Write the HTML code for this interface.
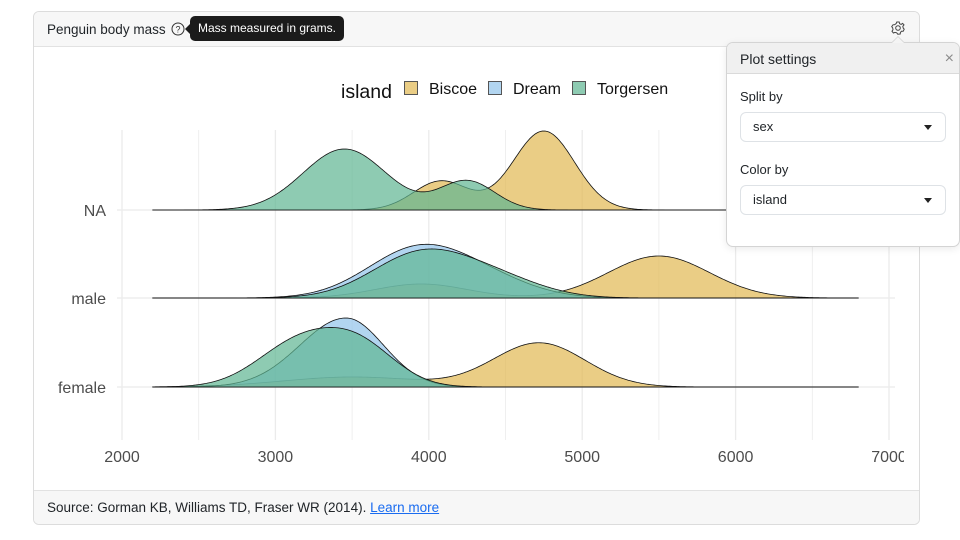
<!DOCTYPE html>
<html><head><meta charset="utf-8">
<style>
body{margin:0;width:960px;height:540px;overflow:hidden;background:#fff;font-family:"Liberation Sans",sans-serif;position:relative;color:#212529}
.card{position:absolute;left:33px;top:11px;width:885px;height:512px;border:1px solid #dcdcdc;border-radius:6px;overflow:hidden;background:#fff}
.hdr{position:absolute;left:0;top:0;right:0;height:34px;background:#f7f7f7;border-bottom:1px solid #e2e2e2}
.hdr .t{position:absolute;left:13px;top:10px;font-size:13.5px;line-height:16px;color:#212529}
.ftr{position:absolute;left:0;bottom:0;right:0;height:33px;background:#f7f7f7;border-top:1px solid #e2e2e2}
.ftr .t{position:absolute;left:13px;top:9px;font-size:13.5px;line-height:16px;color:#212529;white-space:nowrap}
.ftr a{color:#1a6cf0;text-decoration:underline}
.tip{position:absolute;left:190px;top:16px;width:154px;height:25px;background:#1b1b1b;border-radius:5px;color:#fff;font-size:12px;line-height:25px;text-align:center;white-space:nowrap}
.tip:before{content:"";position:absolute;left:-5px;top:8px;border-top:5px solid transparent;border-bottom:5px solid transparent;border-right:5px solid #1b1b1b}
.pop{position:absolute;left:726px;top:42px;width:232px;height:203px;border:1px solid #d4d4d4;border-radius:7px;background:#fff;box-shadow:0 2px 8px rgba(0,0,0,.08);overflow:hidden}
.pop .ph{position:absolute;left:0;top:0;right:0;height:30px;background:#f0f0f0;border-bottom:1px solid #dadada}
.pop .ph .t{position:absolute;left:13px;top:8px;font-size:14px;line-height:16px;color:#212529}
.pop .ph .x{position:absolute;right:5px;top:7px;font-size:16px;line-height:18px;color:#8a8a8a}
.lbl{position:absolute;left:13px;font-size:13px;line-height:16px;color:#212529}
.sel{position:absolute;left:13px;width:204px;height:28px;border:1px solid #dee2e6;border-radius:6px;background:#fff}
.sel .v{position:absolute;left:12px;top:6px;font-size:13px;line-height:16px;color:#212529}
.sel .c{position:absolute;right:13px;top:12px;width:0;height:0;border-left:4px solid transparent;border-right:4px solid transparent;border-top:5px solid #222}
.caret{position:absolute;left:891px;top:36px;width:0;height:0;border-left:7px solid transparent;border-right:7px solid transparent;border-bottom:7px solid #d4d4d4}
.caret2{position:absolute;left:892px;top:37px;width:0;height:0;border-left:6px solid transparent;border-right:6px solid transparent;border-bottom:6px solid #f4f4f4}
</style></head>
<body>
<div class="card">
  <div class="hdr"><div class="t">Penguin body mass</div></div>
  <div class="ftr"><div class="t">Source: Gorman KB, Williams TD, Fraser WR (2014). <a>Learn more</a></div></div>
</div>

<svg id="chart" width="960" height="540" style="position:absolute;left:0;top:0" xmlns="http://www.w3.org/2000/svg">
  <defs><clipPath id="cp"><rect x="34" y="47" width="870" height="442"/></clipPath></defs>
  <circle cx="178" cy="29" r="6" fill="none" stroke="#333" stroke-width="1"/>
  <text x="178" y="32.5" font-size="9" text-anchor="middle" fill="#333" font-family="Liberation Sans, sans-serif">?</text>
  <g transform="translate(898,28)" fill="none" stroke="#444" stroke-width="1">
    <circle r="2.3"/>
    <path d="M-1.2,-6 L1.2,-6 L1.6,-4.3 L3.1,-3.6 L4.6,-4.6 L6,-3.1 L4.8,-1.7 L5.2,0 L6.2,1.2 L5.2,3.2 L3.4,3.2 L2.4,4.6 L2.2,6 L-0.2,6.2 L-1.3,4.8 L-3,4.4 L-4.6,5 L-6,3.2 L-5,1.8 L-5.3,0 L-6.3,-1.4 L-5,-3.2 L-3.3,-3.4 L-1.8,-4.5 Z"/>
  </g>
  <g id="plot" clip-path="url(#cp)" font-family="Liberation Sans, sans-serif"></g>
</svg>

<div class="tip">Mass measured in grams.</div>

<div class="caret"></div>
<div class="pop">
  <div class="ph"><div class="t">Plot settings</div><div class="x">×</div></div>
  <div class="lbl" style="top:46px">Split by</div>
  <div class="sel" style="top:69px"><div class="v">sex</div><div class="c"></div></div>
  <div class="lbl" style="top:119px">Color by</div>
  <div class="sel" style="top:142px"><div class="v">island</div><div class="c"></div></div>
</div>
<div class="caret2"></div>

<script>
(function(){
  var g=document.getElementById('plot');
  var s='';
  function X(m){return 122+(m-2000)*0.1534;}
  for(var m=2000;m<=7000;m+=500){
    var x=X(m).toFixed(1);
    var major=(m%1000===0);
    s+='<line x1="'+x+'" y1="130" x2="'+x+'" y2="440" stroke="#ebebeb" stroke-width="'+(major?1.3:0.8)+'"/>';
  }
  [210,298,387].forEach(function(b){
    s+='<line x1="117" y1="'+b+'" x2="895" y2="'+b+'" stroke="#ebebeb" stroke-width="1.3"/>';
  });
  var cols={B:'#E1B851',D:'#92C3EA',T:'#5EB591'};
  var rows=[
    {b:210,s:{B:[[4080,29,180],[4750,79,200]],T:[[3450,61,270],[4250,29,180]]}},
    {b:298,s:{B:[[3950,14,300],[5500,42,330]],D:[[3930,49,330],[4400,14,300]],T:[[3950,44,320],[4450,17,300]]}},
    {b:387,s:{B:[[3500,10,450],[4720,44,300]],D:[[3460,69,300,245]],T:[[3150,43,270],[3550,38,240]]}}
  ];
  rows.forEach(function(r){
    ['B','D','T'].forEach(function(k){
      var comps=r.s[k]; if(!comps) return;
      var d='M'+X(2200).toFixed(1)+','+r.b;
      for(var m=2200;m<=6800;m+=10){
        var h=0;
        comps.forEach(function(c){
          var sd=c[2]; if(c.length>3 && m>c[0]) sd=c[3];
          h+=c[1]*Math.exp(-(m-c[0])*(m-c[0])/(2*sd*sd));
        });
        d+=' L'+X(m).toFixed(1)+','+(r.b-h).toFixed(2);
      }
      d+=' L'+X(6800).toFixed(1)+','+r.b+' Z';
      s+='<path d="'+d+'" fill="'+cols[k]+'" fill-opacity="0.7" stroke="#111" stroke-width="0.8" stroke-linejoin="round"/>';
    });
  });
  [2000,3000,4000,5000,6000,7000].forEach(function(m){
    s+='<text x="'+X(m).toFixed(1)+'" y="462" font-size="16" fill="#4d4d4d" text-anchor="middle">'+m+'</text>';
  });
  [['NA',210],['male',298],['female',387]].forEach(function(l){
    s+='<text x="106" y="'+(l[1]+6)+'" font-size="16" fill="#4d4d4d" text-anchor="end">'+l[0]+'</text>';
  });
  s+='<text x="341" y="98" font-size="19.5" fill="#111">island</text>';
  [['Biscoe',404,'B'],['Dream',488,'D'],['Torgersen',572,'T']].forEach(function(l){
    s+='<rect x="'+(l[1]+0.5)+'" y="81.5" width="13" height="13" fill="'+cols[l[2]]+'" fill-opacity="0.7" stroke="#555" stroke-width="1"/>';
    s+='<text x="'+(l[1]+25)+'" y="94" font-size="16" fill="#111">'+l[0]+'</text>';
  });
  g.innerHTML=s;
})();
</script>
</body></html>
